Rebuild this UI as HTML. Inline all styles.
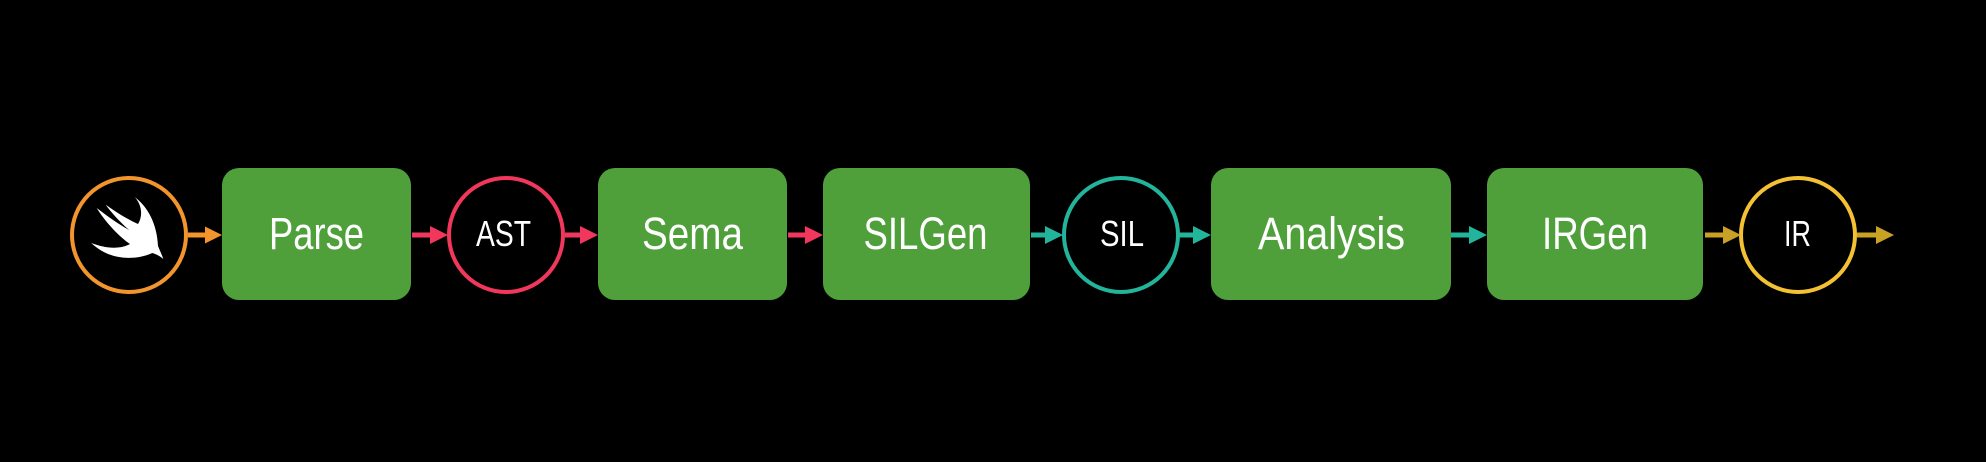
<!DOCTYPE html>
<html><head><meta charset="utf-8"><style>
html,body{margin:0;padding:0;background:#000;}
svg{display:block;}
text{font-family:"Liberation Sans",sans-serif;fill:#fff;}
</style></head><body>
<svg width="1986" height="462" viewBox="0 0 1986 462" xmlns="http://www.w3.org/2000/svg">
<rect width="1986" height="462" fill="#000"/>
<g fill="#4fa03b">
<rect x="222" y="168" width="189" height="132" rx="17"/>
<rect x="598" y="168" width="189" height="132" rx="17"/>
<rect x="823" y="168" width="207" height="132" rx="17"/>
<rect x="1211" y="168" width="240" height="132" rx="17"/>
<rect x="1487" y="168" width="216" height="132" rx="17"/>
</g>
<g fill="none" stroke-width="4">
<circle cx="129" cy="235" r="57" stroke="#f2952c"/>
<circle cx="506" cy="235" r="57" stroke="#f2375d"/>
<circle cx="1121" cy="235" r="57" stroke="#22b59b"/>
<circle cx="1798" cy="235" r="57" stroke="#f4c132"/>
</g>
<!-- arrows -->
<g>
<rect x="188" y="232.5" width="20" height="5" fill="#f2952c"/><polygon points="205,226.5 222,235 205,243.5" fill="#f2952c"/>
<rect x="412" y="232.5" width="20" height="5" fill="#f2375d"/><polygon points="430,226 448,235 430,244" fill="#f2375d"/>
<rect x="565" y="232.5" width="18" height="5" fill="#f2375d"/><polygon points="580,226 598,235 580,244" fill="#f2375d"/>
<rect x="788" y="232.5" width="19" height="5" fill="#f2375d"/><polygon points="805,226 823,235 805,244" fill="#f2375d"/>
<rect x="1031" y="232.5" width="16" height="5" fill="#22b59b"/><polygon points="1045,226 1063,235 1045,244" fill="#22b59b"/>
<rect x="1179" y="232.5" width="16" height="5" fill="#22b59b"/><polygon points="1193,226 1211,235 1193,244" fill="#22b59b"/>
<rect x="1451" y="232.5" width="20" height="5" fill="#22b59b"/><polygon points="1469,226 1487,235 1469,244" fill="#22b59b"/>
<rect x="1705" y="232.5" width="20" height="5" fill="#c9a125"/><polygon points="1723,226 1741,235 1723,244" fill="#c9a125"/>
<rect x="1857" y="232.5" width="20" height="5" fill="#c9a125"/><polygon points="1876,226 1894,235 1876,244" fill="#c9a125"/>
</g>
<!-- swift logo -->
<path fill="#fff" d="M134.7 197 C148 207 157 224 158 246 C160 251 162 255 163.3 259 C160 256 156 254 152.3 253 C140 259 112 263 91.3 243 C104 248 119 250 130 244 C118 236 104 220 96.7 208 C107 216 120 225 129 230 C119 221 111 212 105.7 204.7 C116 212 127 219 138 224 C143 216 142 205 134.7 197 Z"/>
<!-- labels -->
<g font-size="45" text-anchor="middle">
<text x="316.5" y="249" textLength="95" lengthAdjust="spacingAndGlyphs">Parse</text>
<text x="692.5" y="249" textLength="101" lengthAdjust="spacingAndGlyphs">Sema</text>
<text x="925.5" y="249" textLength="124" lengthAdjust="spacingAndGlyphs">SILGen</text>
<text x="1331.5" y="249" textLength="147" lengthAdjust="spacingAndGlyphs">Analysis</text>
<text x="1595" y="249" textLength="106" lengthAdjust="spacingAndGlyphs">IRGen</text>
</g>
<g font-size="36" text-anchor="middle">
<text x="503.5" y="246" textLength="55" lengthAdjust="spacingAndGlyphs">AST</text>
<text x="1122" y="246" textLength="44" lengthAdjust="spacingAndGlyphs">SIL</text>
<text x="1797.5" y="246" textLength="27" lengthAdjust="spacingAndGlyphs">IR</text>
</g>
</svg>
</body></html>
